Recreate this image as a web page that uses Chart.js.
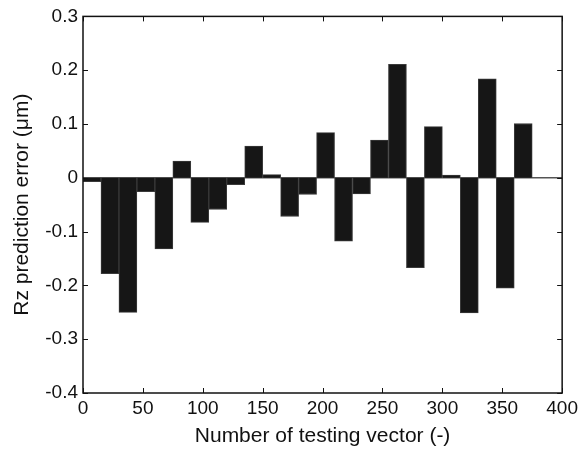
<!DOCTYPE html>
<html>
<head>
<meta charset="utf-8">
<script src="https://cdn.jsdelivr.net/npm/chart.js@4/dist/chart.umd.min.js"></script>
<style>
  html, body { margin: 0; padding: 0; background: #fff; }
  #wrap { width: 582px; height: 453px; }
</style>
</head>
<body>
<div id="wrap"><canvas id="errChart"></canvas></div>
<script>
// centre of each group of 15 testing vectors
const vectorNumber = [7.5, 22.5, 37.5, 52.5, 67.5, 82.5, 97.5, 112.5, 127.5, 142.5,
    157.5, 172.5, 187.5, 202.5, 217.5, 232.5, 247.5, 262.5, 277.5, 292.5,
    307.5, 322.5, 337.5, 352.5, 367.5];
// Rz prediction error (um)
const rzError = [-0.007, -0.178, -0.250, -0.026, -0.132, 0.031, -0.083, -0.059, -0.013, 0.059,
    0.006, -0.072, -0.031, 0.084, -0.118, -0.030, 0.070, 0.211, -0.167, 0.095,
    0.005, -0.251, 0.184, -0.205, 0.101];
const xTicks = [0, 50, 100, 150, 200, 250, 300, 350, 400];
const yTicks = [-0.4, -0.3, -0.2, -0.1, 0, 0.1, 0.2, 0.3];

const fontFamily = '"Liberation Sans", Arial, Helvetica, sans-serif';

// MATLAB-like box with inward ticks on all four sides
const boxPlugin = {
    id: 'box',
    afterDraw(chart) {
        const { ctx, chartArea: a, scales } = chart;
        const len = 5;
        ctx.save();
        ctx.strokeStyle = '#111';
        ctx.lineWidth = 1;
        xTicks.forEach(v => {
            const px = Math.round(scales.x.getPixelForValue(v)) + 0.5;
            ctx.beginPath();
            ctx.moveTo(px, a.bottom); ctx.lineTo(px, a.bottom - len);
            ctx.moveTo(px, a.top); ctx.lineTo(px, a.top + len);
            ctx.stroke();
        });
        yTicks.forEach(v => {
            const py = Math.round(scales.y.getPixelForValue(v)) + 0.5;
            ctx.beginPath();
            ctx.moveTo(a.left, py); ctx.lineTo(a.left + len, py);
            ctx.moveTo(a.right, py); ctx.lineTo(a.right - len, py);
            ctx.stroke();
        });
        ctx.lineWidth = 1.5;
        ctx.strokeRect(a.left, a.top, a.right - a.left, a.bottom - a.top);
        ctx.restore();
    }
};

const ctx = document.getElementById('errChart').getContext('2d');
new Chart(ctx, {
    type: 'bar',
    data: {
        datasets: [
            {
                type: 'bar',
                data: vectorNumber.map((x, i) => ({ x: x, y: rzError[i] })),
                backgroundColor: '#161616',
                borderColor: '#3a3a3a',
                borderWidth: 1,
                barPercentage: 1,
                categoryPercentage: 1,
                order: 1
            },
            {
                type: 'line',
                data: [{ x: 0, y: 0 }, { x: 400, y: 0 }],
                borderColor: '#555',
                borderWidth: 1.5,
                pointRadius: 0,
                order: 2
            }
        ]
    },
    options: {
        responsive: true,
        maintainAspectRatio: false,
        animation: false,
        layout: { padding: { top: 13, right: 16, left: 0, bottom: 0 } },
        plugins: { legend: { display: false }, tooltip: { enabled: false } },
        scales: {
            x: {
                type: 'linear',
                min: 0,
                max: 400,
                offset: false,
                grid: { display: false, drawTicks: false },
                border: { display: false },
                afterBuildTicks: s => { s.ticks = xTicks.map(v => ({ value: v })); },
                ticks: {
                    padding: 4,
                    maxRotation: 0,
                    color: '#111',
                    font: { family: fontFamily, size: 19 }
                },
                title: {
                    display: true,
                    text: 'Number of testing vector (-)',
                    color: '#111',
                    font: { family: fontFamily, size: 21 },
                    padding: { top: 0, bottom: 4 }
                },
                afterFit: s => { s.height = 60; }
            },
            y: {
                min: -0.4,
                max: 0.3,
                grid: { display: false, drawTicks: false },
                border: { display: false },
                afterBuildTicks: s => { s.ticks = yTicks.map(v => ({ value: v })); },
                ticks: {
                    padding: 5,
                    color: '#111',
                    font: { family: fontFamily, size: 19 },
                    callback: v => String(Number(v.toFixed(1)))
                },
                title: {
                    display: true,
                    text: 'Rz prediction error (μm)',
                    color: '#111',
                    font: { family: fontFamily, size: 21 },
                    padding: { top: 10, bottom: 0 }
                },
                afterFit: s => { s.width = 83; }
            }
        }
    },
    plugins: [boxPlugin]
});
</script>
</body>
</html>
